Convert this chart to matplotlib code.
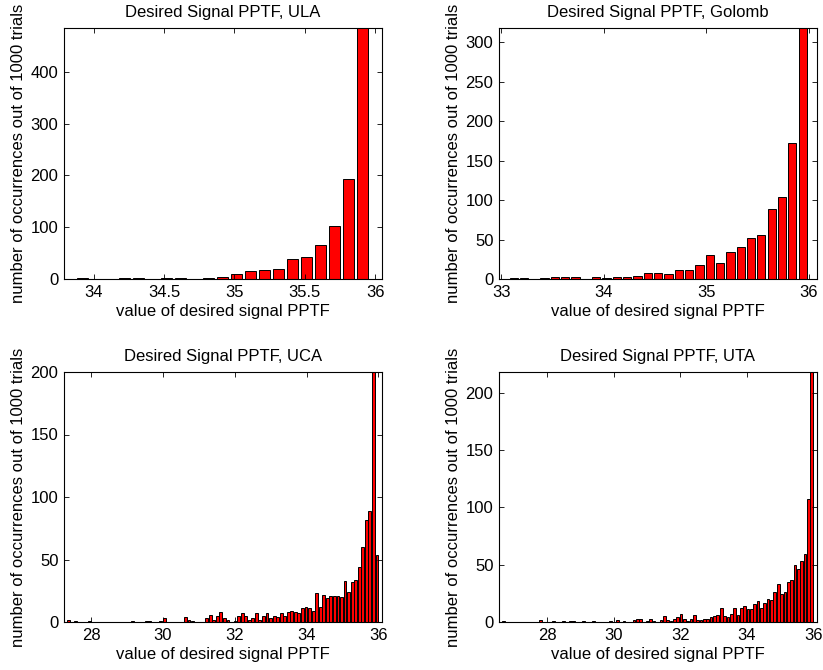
import numpy as np
import matplotlib
matplotlib.use("Agg")
import matplotlib.pyplot as plt

plt.rcParams['font.family'] = ['Liberation Sans', 'DejaVu Sans']
plt.rcParams['font.size'] = 12

# histogram counts out of 1000 trials, bin centres given as (first, last)
ula_centers = (33.92, 35.91)
ula_counts = [1, 0, 0, 1, 1, 0, 1, 1, 0, 1, 3, 10, 16, 17, 20, 38, 42, 65, 102, 194, 485]

golomb_centers = (33.12, 35.94)
golomb_counts = [1, 1, 0, 1, 2, 2, 2, 0, 3, 1, 2, 2, 4, 8, 8, 6, 11, 12, 18, 31,
                 20, 34, 41, 52, 56, 89, 104, 172, 318]

uca_centers = (27.37, 35.96)
uca_counts = [2, 0, 1, 0, 0, 0, 1, 0, 0, 0,
              0, 0, 0, 0, 0, 0, 0, 0, 1, 0,
              0, 0, 1, 1, 0, 0, 1, 3, 0, 0,
              0, 0, 0, 4, 2, 1, 0, 0, 0, 3,
              6, 2, 5, 8, 3, 2, 0, 1, 5, 7,
              5, 2, 3, 7, 2, 5, 7, 3, 5, 4,
              7, 5, 8, 9, 8, 7, 11, 12, 11, 9,
              23, 12, 22, 19, 21, 21, 21, 20, 33, 24,
              32, 34, 44, 60, 82, 89, 205, 54]

uta_centers = (26.68, 35.95)
uta_counts = [1, 0, 0, 0, 0, 0, 0, 0, 0, 0,
              0, 2, 0, 0, 0, 1, 0, 0, 1, 0,
              1, 1, 0, 0, 1, 0, 0, 1, 0, 0,
              0, 0, 1, 0, 2, 0, 1, 0, 0, 2,
              3, 3, 0, 1, 3, 1, 0, 2, 5, 2,
              1, 3, 4, 7, 3, 1, 3, 6, 2, 2,
              3, 3, 4, 5, 6, 12, 5, 4, 7, 12,
              6, 12, 14, 11, 11, 16, 18, 12, 17, 20,
              19, 26, 33, 24, 26, 35, 37, 50, 46, 53,
              59, 107, 218]

titles = ['Desired Signal PPTF, ULA', 'Desired Signal PPTF, Golomb',
          'Desired Signal PPTF, UCA', 'Desired Signal PPTF, UTA']

fig = plt.figure(figsize=(8.23, 6.70), dpi=100)
W, H = 823.0, 670.0
# axes boxes in pixels: left, top, right, bottom
boxes = [(64, 28, 382, 279), (499, 28, 817, 279),
         (64, 372, 382, 622), (499, 372, 817, 622)]

panels = [
    (ula_centers, ula_counts, (33.79, 36.047), 485, [34, 34.5, 35, 35.5, 36], ['34', '34.5', '35', '35.5', '36'], np.arange(0, 401, 100)),
    (golomb_centers, golomb_counts, (32.977, 36.08), 318, [33, 34, 35, 36], ['33', '34', '35', '36'], np.arange(0, 301, 50)),
    (uca_centers, uca_counts, (27.25, 36.1), 200, [28, 30, 32, 34, 36], ['28', '30', '32', '34', '36'], np.arange(0, 201, 50)),
    (uta_centers, uta_counts, (26.55, 36.11), 218, [28, 30, 32, 34, 36], ['28', '30', '32', '34', '36'], np.arange(0, 201, 50)),
]

for i, (cen, counts, xl, ytop, xt, xtl, yt) in enumerate(panels):
    x0, y0, x1, y1 = boxes[i]
    ax = fig.add_axes([x0 / W, 1 - y1 / H, (x1 - x0) / W, (y1 - y0) / H])
    n = len(counts)
    centers = np.linspace(cen[0], cen[1], n)
    w = (cen[1] - cen[0]) / (n - 1)
    ax.bar(centers, counts, width=0.8 * w, color='#ff0000', edgecolor='black', linewidth=0.7)
    ax.set_xlim(xl)
    ax.set_ylim(0, ytop)
    ax.set_xticks(xt)
    ax.set_xticklabels(xtl)
    ax.set_yticks(yt)
    ax.tick_params(direction='in', top=True, right=True, length=3.5, width=0.6, pad=4, labelsize=12)
    for s in ax.spines.values():
        s.set_linewidth(0.8)
    ax.set_title(titles[i], fontsize=12, pad=8)
    ax.set_xlabel('value of desired signal PPTF', fontsize=12, labelpad=3)
    ax.set_ylabel('number of occurrences out of 1000 trials', fontsize=12, labelpad=3)

fig.savefig('out.png', dpi=100)
